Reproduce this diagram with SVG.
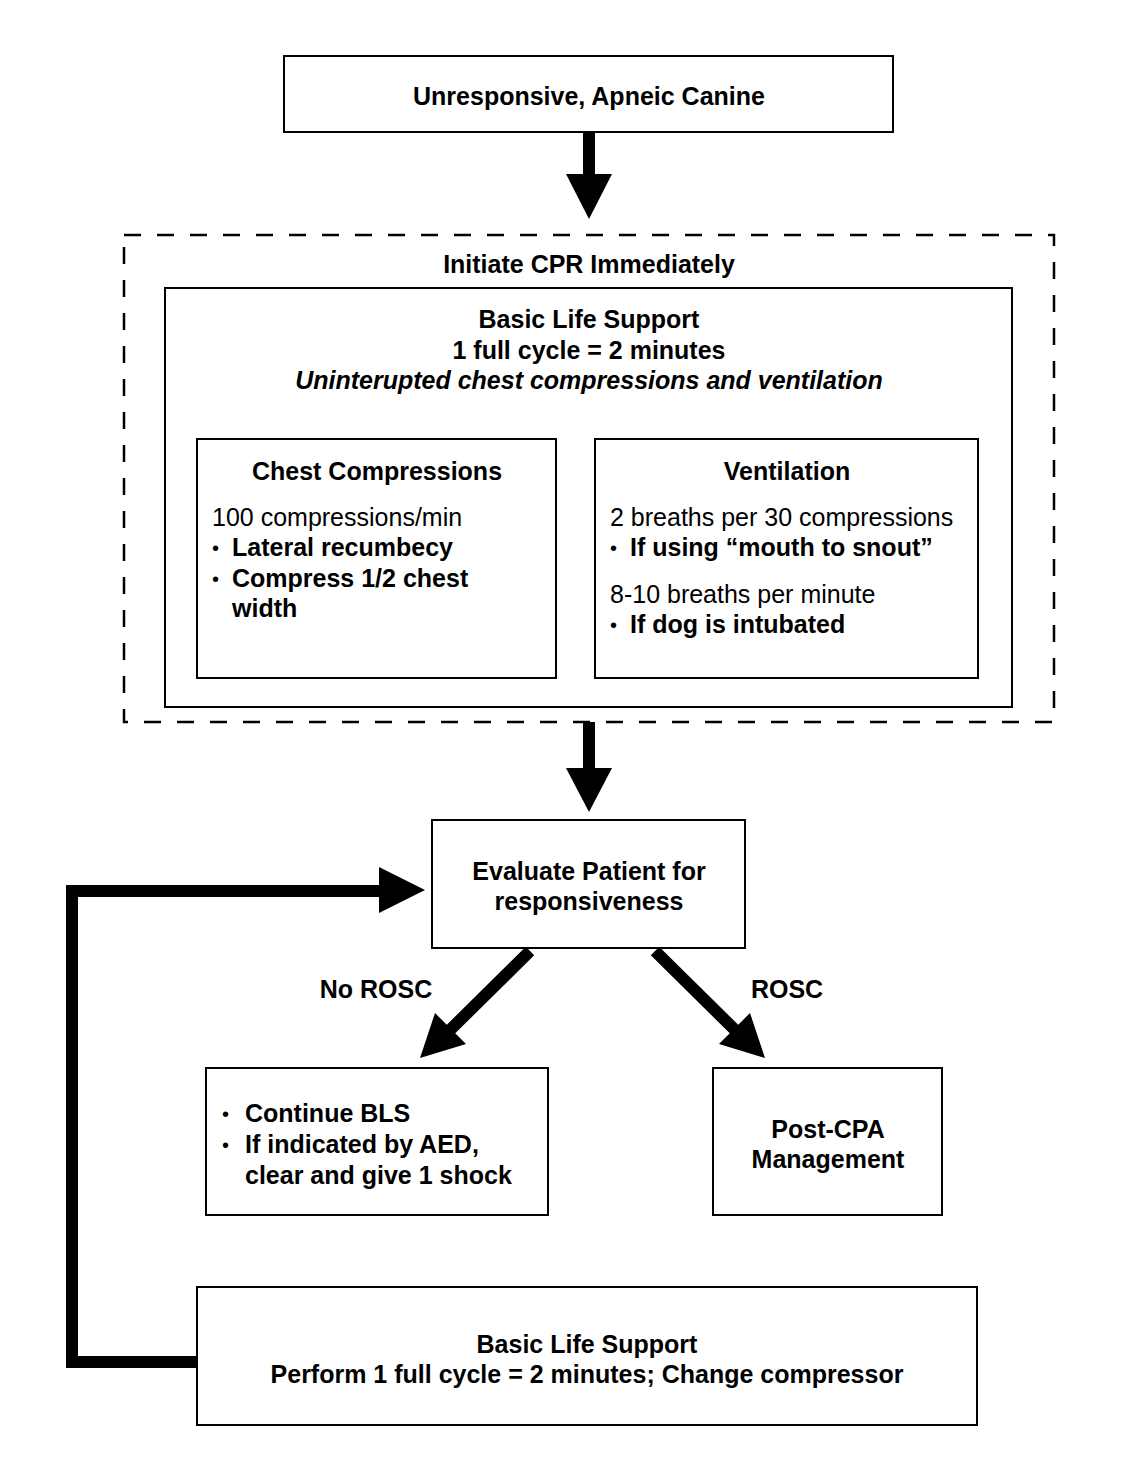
<svg xmlns="http://www.w3.org/2000/svg" width="1121" height="1481" viewBox="0 0 1121 1481">
<style>
.box{fill:#fff;stroke:#000;stroke-width:2}
.dash{fill:none;stroke:#000;stroke-width:2.5;stroke-dasharray:17 16}
text{font-family:"Liberation Sans",Arial,sans-serif;font-size:25px;fill:#000}
.b{font-weight:bold}
.c{text-anchor:middle}
.i{font-style:italic}
.d{font-size:20px}
.shaft{fill:none;stroke:#000;stroke-width:12}
.head{fill:#000}
</style>
<rect width="1121" height="1481" fill="#fff"/>
<g id="connectors">
<line class="shaft" x1="589" y1="132" x2="589" y2="176"/>
<polygon class="head" points="566,174 612,174 589,219"/>
<line class="shaft" x1="589" y1="722" x2="589" y2="770"/>
<polygon class="head" points="566,768 612,768 589,812"/>
<line class="shaft" x1="530" y1="951" x2="448" y2="1032"/>
<polygon class="head" points="420,1058 435,1013 466,1044"/>
<line class="shaft" x1="655" y1="951" x2="737" y2="1032"/>
<polygon class="head" points="765,1058 719,1044 750,1013"/>
<polyline class="shaft" points="197,1362 72,1362 72,891 382,891"/>
<polygon class="head" points="379,867 379,913 425,890"/>
</g>
<g id="start">
<rect class="box" x="284" y="56" width="609" height="76"/>
<text class="b c" x="589" y="105">Unresponsive, Apneic Canine</text>
</g>
<g id="cpr">
<rect class="dash" x="124" y="235" width="930" height="487"/>
<text class="b c" x="589" y="273">Initiate CPR Immediately</text>
</g>
<g id="bls">
<rect class="box" x="165" y="288" width="847" height="419"/>
<text class="b c" x="589" y="328">Basic Life Support</text>
<text class="b c" x="589" y="359">1 full cycle = 2 minutes</text>
<text class="b c i" x="589" y="389">Uninterupted chest compressions and ventilation</text>
</g>
<g id="chest">
<rect class="box" x="197" y="439" width="359" height="239"/>
<text class="b c" x="377" y="480">Chest Compressions</text>
<text x="212" y="526">100 compressions/min</text>
<text class="d" x="212" y="555">•</text>
<text class="b" x="232" y="556">Lateral recumbecy</text>
<text class="d" x="212" y="586">•</text>
<text class="b" x="232" y="587">Compress 1/2 chest</text>
<text class="b" x="232" y="617">width</text>
</g>
<g id="ventilation">
<rect class="box" x="595" y="439" width="383" height="239"/>
<text class="b c" x="787" y="480">Ventilation</text>
<text x="610" y="526">2 breaths per 30 compressions</text>
<text class="d" x="610" y="555">•</text>
<text class="b" x="630" y="556">If using “mouth to snout”</text>
<text x="610" y="603">8-10 breaths per minute</text>
<text class="d" x="610" y="632">•</text>
<text class="b" x="630" y="633">If dog is intubated</text>
</g>
<g id="evaluate">
<rect class="box" x="432" y="820" width="313" height="128"/>
<text class="b c" x="589" y="880">Evaluate Patient for</text>
<text class="b c" x="589" y="910">responsiveness</text>
</g>
<g id="labels">
<text class="b c" x="376" y="998">No ROSC</text>
<text class="b c" x="787" y="998">ROSC</text>
</g>
<g id="continue">
<rect class="box" x="206" y="1068" width="342" height="147"/>
<text class="d" x="222" y="1121">•</text>
<text class="b" x="245" y="1122">Continue BLS</text>
<text class="d" x="222" y="1152">•</text>
<text class="b" x="245" y="1153">If indicated by AED,</text>
<text class="b" x="245" y="1184">clear and give 1 shock</text>
</g>
<g id="postcpa">
<rect class="box" x="713" y="1068" width="229" height="147"/>
<text class="b c" x="828" y="1138">Post-CPA</text>
<text class="b c" x="828" y="1168">Management</text>
</g>
<g id="cycle">
<rect class="box" x="197" y="1287" width="780" height="138"/>
<text class="b c" x="587" y="1353">Basic Life Support</text>
<text class="b c" x="587" y="1383">Perform 1 full cycle = 2 minutes; Change compressor</text>
</g>
</svg>
